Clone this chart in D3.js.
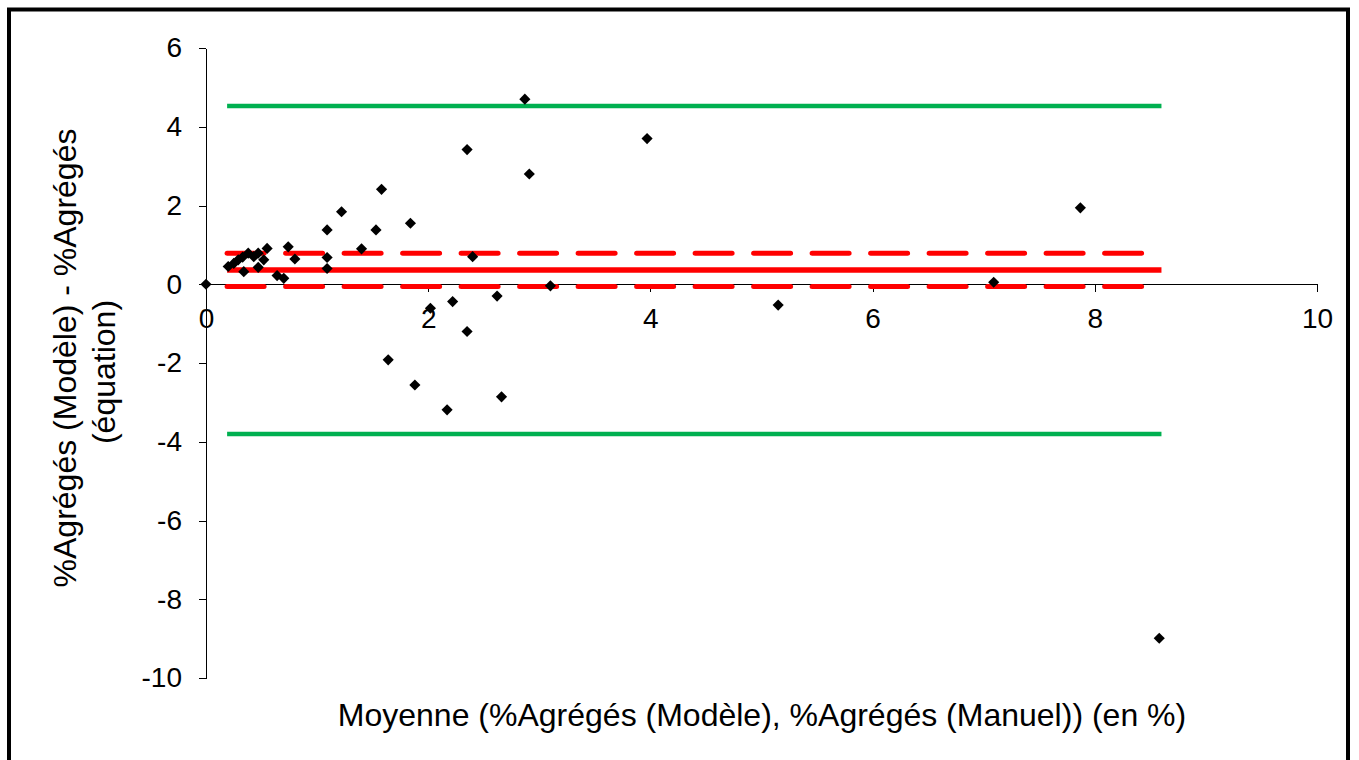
<!DOCTYPE html>
<head>
    <meta charset="utf-8">
    <style>
        body {
            margin: 0;
            background: #fff;
            font-family: 'Liberation Sans', Arial, sans-serif;
        }

        .axis text {
            font-family: 'Liberation Sans', Arial, sans-serif;
            font-size: 28px;
            fill: #000;
        }

        .axis path, .axis line {
            stroke: #000;
            stroke-width: 1px;
            shape-rendering: crispEdges;
        }

        .title {
            font-size: 32px;
            fill: #000;
            text-anchor: middle;
        }
    </style>
    <script src="https://d3js.org/d3.v7.min.js"></script>
</head>

<body>
    <script>
        ////////////// Data //////////////

        //mean of the two methods (x) and their difference (y)
        const x_values = [0, 0.20, 0.25, 0.29, 0.33, 0.38, 0.43, 0.47, 0.55, 0.34, 0.47, 0.52, 0.64, 0.70,
            0.74, 0.80, 1.09, 1.09, 1.09, 1.22, 1.40, 1.53, 1.58, 1.84, 2.35, 2.91, 2.40, 3.10, 2.22, 2.02,
            2.62, 2.35, 1.64, 1.88, 2.17, 2.66, 2.87, 3.97, 5.15, 7.09, 7.87, 8.58]
        const y_values = [0, 0.45, 0.53, 0.62, 0.69, 0.79, 0.70, 0.79, 0.91, 0.32, 0.43, 0.62, 0.22, 0.15,
            0.95, 0.64, 1.38, 0.68, 0.40, 1.84, 0.90, 1.38, 2.41, 1.55, 3.42, 2.80, 0.70, -0.04, -0.44, -0.61,
            -0.30, -1.20, -1.92, -2.56, -3.19, -2.86, 4.70, 3.70, -0.53, 0.05, 1.94, -8.99]

        //reference lines: bias, limits of agreement, confidence interval of the bias
        const bias = 0.365
        const limits = [4.53, -3.80]
        const bias_ci = [0.79, -0.06]
        const line_extent = [0.19, 8.6]

        const x_ticks = [0, 2, 4, 6, 8, 10]
        const y_ticks = [-10, -8, -6, -4, -2, 0, 2, 4, 6]

        const x_title = "Moyenne (%Agrégés (Modèle), %Agrégés (Manuel)) (en %)"
        const y_title = ["%Agrégés (Modèle)  - %Agrégés", "(équation)"]

        ////////////// SVG //////////////

        const W = 1359, H = 760
        const svg = d3.select("body").append("svg")
            .attr("width", W)
            .attr("height", H)

        //outer frame (bottom edge runs off the picture)
        svg.append("rect")
            .attr("x", 9)
            .attr("y", 9.5)
            .attr("width", 1339)
            .attr("height", 800)
            .attr("fill", "none")
            .attr("stroke", "#000")
            .attr("stroke-width", 4)

        ////////////// Scales //////////////

        const x_scale = d3.scaleLinear().domain([0, 10]).range([206, 1317])
        const y_scale = d3.scaleLinear().domain([-10, 6]).range([678, 48])

        ////////////// Axes //////////////

        svg.append("g")
            .attr("class", "axis y")
            .attr("transform", "translate(" + x_scale(0) + ",0)")
            .call(d3.axisLeft(y_scale)
                .tickValues(y_ticks)
                .tickSize(7)
                .tickSizeOuter(0)
                .tickPadding(17)
                .tickFormat(d => String(d)))

        svg.append("g")
            .attr("class", "axis x")
            .attr("transform", "translate(0," + y_scale(0) + ")")
            .call(d3.axisBottom(x_scale)
                .tickValues(x_ticks)
                .tickSize(8)
                .tickSizeOuter(0)
                .tickPadding(16)
                .tickFormat(d => String(d)))

        svg.selectAll(".axis").attr("font-family", null).attr("font-size", null)

        ////////////// Reference lines //////////////

        const hline = (value, color, width, dash) => {
            svg.append("line")
                .attr("x1", x_scale(line_extent[0]))
                .attr("x2", x_scale(line_extent[1]))
                .attr("y1", y_scale(value))
                .attr("y2", y_scale(value))
                .attr("stroke", color)
                .attr("stroke-width", width)
                .attr("stroke-linecap", dash ? "round" : "butt")
                .attr("stroke-dasharray", dash)
        }

        limits.forEach(v => hline(v, "#00b050", 4.5, null))
        hline(bias, "#ff0000", 5.5, null)
        bias_ci.forEach(v => hline(v, "#ff0000", 5, "37 21.5"))

        ////////////// Points //////////////

        const diamond = d3.symbol().type(d3.symbolSquare).size(62)

        svg.append("g")
            .selectAll("path")
            .data(x_values.map((x, i) => ({ x: x, y: y_values[i] })))
            .join("path")
            .attr("d", diamond)
            .attr("transform", d => "translate(" + x_scale(d.x) + "," + y_scale(d.y) + ") rotate(45)")
            .attr("fill", "#000")

        ////////////// Titles //////////////

        svg.append("text")
            .attr("class", "title")
            .attr("x", 762)
            .attr("y", 726)
            .text(x_title)

        svg.append("text")
            .attr("class", "title")
            .attr("transform", "translate(76,358) rotate(-90)")
            .text(y_title[0])

        svg.append("text")
            .attr("class", "title")
            .attr("transform", "translate(115,372) rotate(-90)")
            .text(y_title[1])
    </script>
</body>
